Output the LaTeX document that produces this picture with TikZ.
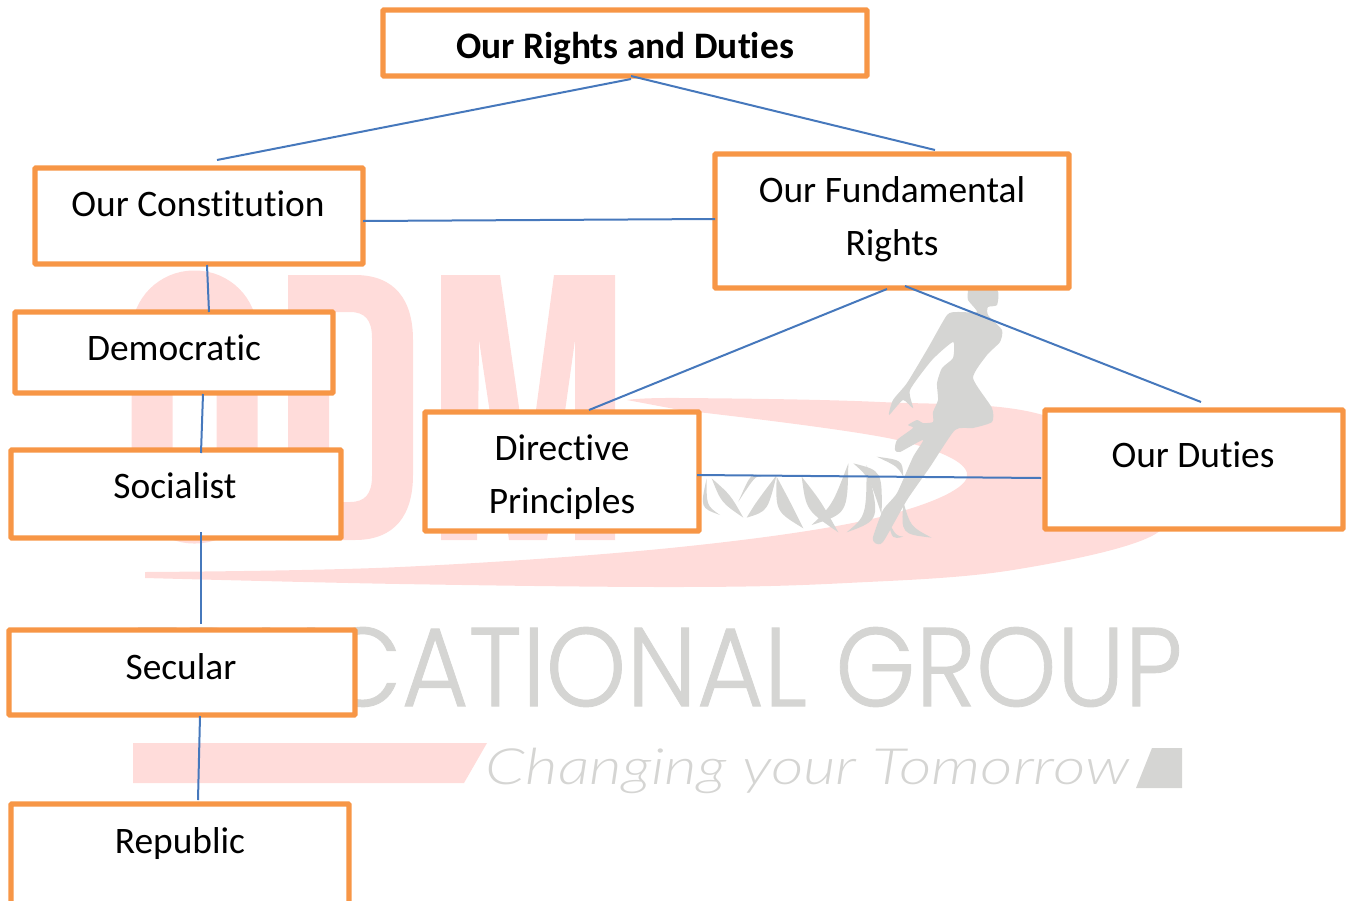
\documentclass[tikz,border=0pt]{standalone}
\usepackage{fontspec}
\setmainfont[Ligatures=NoCommon]{Carlito}
\newfontfamily\wmfont[FakeBold=0.8]{Poppins Light}
\newfontfamily\tagfont{Lato Light Italic}
\definecolor{boxorange}{HTML}{F79646}
\definecolor{linkblue}{HTML}{4678BC}
\definecolor{wmpink}{HTML}{FFDCDA}
\definecolor{wmgray}{HTML}{D5D5D3}
\newcommand\strand[7]{%
  \pgfmathsetmacro\cxx{2*#3-(#1+#5)/2}%
  \pgfmathsetmacro\cyy{2*#4-(#2+#6)/2}%
  \pgfmathsetmacro\lenn{veclen(#5-#1,#6-#2)}%
  \pgfmathsetmacro\nxx{-(#6-#2)/\lenn*#7}%
  \pgfmathsetmacro\nyy{(#5-#1)/\lenn*#7}%
  \fill[wmgray] (#1,#2) .. controls (\cxx+\nxx,\cyy+\nyy) .. (#5,#6) .. controls (\cxx-\nxx,\cyy-\nyy) .. (#1,#2) -- cycle;}
\tikzset{
  box/.style={draw=boxorange,fill=white,line width=5.4pt,rectangle,rounded corners=1pt,outer sep=0pt,inner sep=0pt},
  lab/.style={anchor=base,inner sep=0pt,font=\fontsize{37.4}{37.4}\selectfont,text=black},
  link/.style={draw=linkblue,line width=2pt},
}
\begin{document}
\begin{tikzpicture}[x=1pt,y=-1pt]
\useasboundingbox (0,0) rectangle (1349,900);
\clip (0,0) rectangle (1349,900);
% watermark letters
\draw[wmpink,line width=41pt,rounded corners=42pt] (152,291) rectangle (237,523);
\fill[wmpink,even odd rule] (288,275) -- (355,275) .. controls (395,275) and (413,300) .. (413,340) -- (413,475) .. controls (413,515) and (395,540) .. (355,540) -- (288,540) -- cycle
  (329,312) -- (350,312) .. controls (365,312) and (372,320) .. (372,338) -- (372,476) .. controls (372,494) and (365,502) .. (350,502) -- (329,502) -- cycle;
\fill[wmpink] (441,275) -- (500,275) -- (528,470) -- (554,275) -- (615,275) -- (615,540) -- (575,540) -- (575,340) -- (547,540) -- (509,540) -- (479,340) -- (477,540) -- (441,540) -- cycle;
% swoosh
\fill[wmpink] plot[smooth,tension=0.6] coordinates {(627,400) (680,398) (880,402) (1043,415) (1150,480) (1157,533) (1013,570) (847,583) (680,587) (400,584) (145,578)}
  -- plot[smooth,tension=0.6] coordinates {(145,572) (400,567) (680,547) (880,517) (967,477) (897,440) (680,410)} -- cycle;
% dna
\begin{scope}[shift={(695,445)},x=0.3333pt,y=-0.3333pt]
\strand{35}{100}{40}{170}{75}{210}{10}
\strand{50}{100}{95}{160}{145}{218}{18}
\strand{130}{170}{170}{110}{200}{95}{8}
\strand{155}{218}{200}{170}{245}{90}{22}
\strand{245}{95}{275}{180}{325}{250}{26}
\strand{320}{95}{365}{180}{430}{262}{26}
\strand{350}{240}{420}{170}{460}{55}{26}
\strand{455}{262}{510}{190}{515}{60}{22}
\strand{475}{55}{530}{110}{560}{210}{22}
\strand{545}{35}{600}{60}{625}{95}{12}
\strand{580}{230}{600}{265}{625}{275}{8}
\strand{625}{170}{650}{240}{710}{278}{18}
\end{scope}
% figure
\fill[wmgray] plot[smooth,tension=0.35] coordinates {(968,290) (997,290) (997,305) (988,307) (988,315) (1002,330) (1000,342) (987,355) (973,378) (992,408) (992,422) (973,428) (955,430) (930,467) (907,500) (883,542) (875,543) (873,537) (883,510) (897,493) (913,457) (923,440) (900,452) (895,450) (897,440) (913,428) (908,425) (917,420) (923,423) (933,422) (933,412) (938,400) (937,383) (942,368) (953,358) (953,342) (932,360) (910,390) (913,408) (903,400) (889,415) (893,400) (907,383) (928,348) (947,315) (957,312) (977,312) (968,300) (968,290)};
% watermark text
\node[anchor=center,inner sep=0pt,text=wmgray] (wmtext) at (656.5,667) {\scalebox{0.917}[1]{\wmfont\fontsize{112}{112}\selectfont EDUCATIONAL GROUP}};
\node[anchor=base,inner sep=0pt,text=wmgray] (wmtag) at (807.5,784) {\scalebox{1.262}[1]{\tagfont\fontsize{50}{50}\selectfont Changing your Tomorrow}};
\fill[wmpink] (133,743) -- (487,743) -- (464,783) -- (133,783) -- cycle;
\fill[wmgray] (1152,748) -- (1182,748) -- (1182,788) -- (1136,788) -- cycle;
% boxes
\node[box,minimum width=484pt,minimum height=66pt] (top) at (625,43) {};
\node[box,minimum width=328pt,minimum height=96pt] (con) at (199,216) {};
\node[box,minimum width=354pt,minimum height=134pt] (fun) at (892,221) {};
\node[box,minimum width=318pt,minimum height=81pt] (dem) at (174,352.5) {};
\node[box,minimum width=330pt,minimum height=88pt] (soc) at (176,494) {};
\node[box,minimum width=274pt,minimum height=119pt] (dir) at (562,471.5) {};
\node[box,minimum width=298pt,minimum height=119pt] (dut) at (1194,469.5) {};
\node[box,minimum width=346pt,minimum height=85pt] (sec) at (182,672.5) {};
\node[box,minimum width=338pt,minimum height=101pt] (rep) at (180,854.5) {};
% labels
\node[lab,font=\fontsize{37.4}{37.4}\selectfont\bfseries] (ttop) at (625,58) {Our Rights and Duties};
\node[lab] (tcon) at (198,216) {Our Constitution};
\node[lab] (tfun1) at (892,202) {Our Fundamental};
\node[lab] (tfun2) at (892,255) {Rights};
\node[lab] (tdem) at (174,360) {Democratic};
\node[lab] (tsoc) at (175,498) {Socialist};
\node[lab] (tdir1) at (562,460) {Directive};
\node[lab] (tdir2) at (562,513) {Principles};
\node[lab] (tdut) at (1193,467) {Our Duties};
\node[lab] (tsec) at (181,679) {Secular};
\node[lab] (trep) at (180,853) {Republic};
% connectors
\draw[link] ([shift={(6,3)}]top.south) -- ([shift={(18,-8)}]con.north);
\draw[link] ([shift={(6,0)}]top.south) -- ([shift={(43,-4)}]fun.north);
\draw[link] ([shift={(0,5)}]con.east) -- ([shift={(0,-2)}]fun.west);
\draw[link] ([shift={(8,1)}]con.south) -- ([shift={(35,0)}]dem.north);
\draw[link] ([shift={(29,1)}]dem.south) -- ([shift={(25,3)}]soc.north);
\draw[link] ([shift={(25,-6)}]soc.south) -- ([shift={(19,-6)}]sec.north);
\draw[link] ([shift={(18,1)}]sec.south) -- ([shift={(18,-4)}]rep.north);
\draw[link] ([shift={(-5,1)}]fun.south) -- ([shift={(27,-2)}]dir.north);
\draw[link] ([shift={(13,-2)}]fun.south) -- ([shift={(7,-8)}]dut.north);
\draw[link] ([shift={(-2,3.5)}]dir.east) -- ([shift={(-4,8.5)}]dut.west);
\end{tikzpicture}
\end{document}
